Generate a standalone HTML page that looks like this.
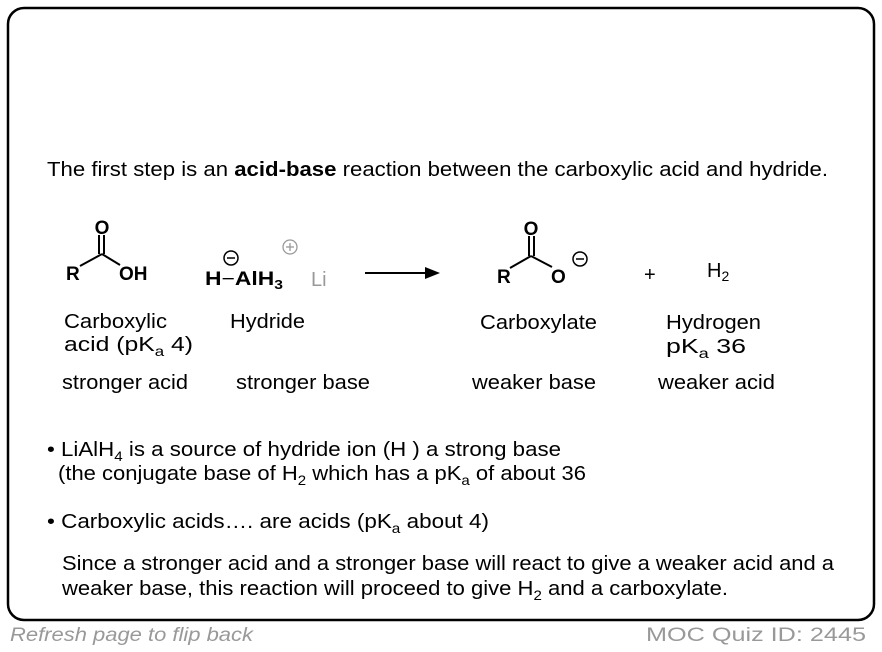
<!DOCTYPE html>
<html><head><meta charset="utf-8"><style>
html,body{margin:0;padding:0;background:#fff;}
svg{display:block;}
text{font-family:"Liberation Sans",Arial,sans-serif;}
</style></head><body>
<svg width="882" height="652" viewBox="0 0 882 652" xmlns="http://www.w3.org/2000/svg">
<rect x="8" y="8" width="866" height="612" rx="16" ry="16" fill="#fff" stroke="#000" stroke-width="2.5"/>
<g font-size="20.5" fill="#000">
<text x="47" y="176" textLength="781" lengthAdjust="spacingAndGlyphs">The first step is an <tspan font-weight="bold">acid-base</tspan> reaction  between the carboxylic acid and hydride.</text>
</g>
<g stroke="#000" stroke-width="2" fill="none">
<line x1="80" y1="266" x2="102" y2="254"/>
<line x1="102" y1="254" x2="120" y2="265"/>
<line x1="99" y1="254" x2="99" y2="235"/>
<line x1="104" y1="254" x2="104" y2="235"/>
<line x1="365" y1="273" x2="428" y2="273"/>
<line x1="510" y1="268" x2="531" y2="256"/>
<line x1="531" y1="256" x2="552" y2="267"/>
<line x1="529" y1="256" x2="529" y2="236"/>
<line x1="534" y1="256" x2="534" y2="236"/>
</g>
<polygon points="440,273 425,267 425,279" fill="#000"/>
<g font-size="19" font-weight="bold" fill="#000">
<text x="102" y="234" text-anchor="middle">O</text>
<text x="66" y="280">R</text>
<text x="119" y="280">OH</text>
<text x="205" y="285" textLength="78" lengthAdjust="spacingAndGlyphs">H<tspan font-weight="normal">−</tspan>AlH<tspan font-size="13" dy="4">3</tspan></text>
<text x="531" y="235" text-anchor="middle">O</text>
<text x="497" y="283">R</text>
<text x="551" y="283">O</text>
</g>
<g fill="none" stroke="#000" stroke-width="1.5">
<circle cx="231" cy="258" r="7"/><line x1="227" y1="258" x2="235" y2="258"/>
<circle cx="580" cy="259" r="7"/><line x1="576" y1="259" x2="584" y2="259"/>
</g>
<g fill="none" stroke="#999" stroke-width="1.3">
<circle cx="290" cy="247" r="7"/><line x1="286" y1="247" x2="294" y2="247"/><line x1="290" y1="243" x2="290" y2="251"/>
</g>
<text x="311" y="286" font-size="20" fill="#999">Li</text>
<text x="644" y="281" font-size="20" fill="#000">+</text>
<text x="707" y="277" font-size="20" fill="#000">H<tspan font-size="14" dy="4">2</tspan></text>
<g font-size="20.5" fill="#000">
<text x="64" y="328" textLength="103" lengthAdjust="spacingAndGlyphs">Carboxylic</text>
<text x="64" y="351" textLength="129" lengthAdjust="spacingAndGlyphs">acid (pK<tspan font-size="14" dy="5">a</tspan><tspan dy="-5"> 4)</tspan></text>
<text x="230" y="328" textLength="75" lengthAdjust="spacingAndGlyphs">Hydride</text>
<text x="480" y="329" textLength="117" lengthAdjust="spacingAndGlyphs">Carboxylate</text>
<text x="666" y="329" textLength="95" lengthAdjust="spacingAndGlyphs">Hydrogen</text>
<text x="666" y="353" textLength="80" lengthAdjust="spacingAndGlyphs">pK<tspan font-size="14" dy="5">a</tspan><tspan dy="-5"> 36</tspan></text>
<text x="62" y="389" textLength="126" lengthAdjust="spacingAndGlyphs">stronger acid</text>
<text x="236" y="389" textLength="134" lengthAdjust="spacingAndGlyphs">stronger base</text>
<text x="472" y="389" textLength="124" lengthAdjust="spacingAndGlyphs">weaker base</text>
<text x="658" y="389" textLength="117" lengthAdjust="spacingAndGlyphs">weaker acid</text>
<text x="47" y="456" textLength="514" lengthAdjust="spacingAndGlyphs">• LiAlH<tspan font-size="14" dy="5">4</tspan><tspan dy="-5"> is a source of hydride ion (H    ) a strong base</tspan></text>
<text x="58" y="480" textLength="528" lengthAdjust="spacingAndGlyphs">(the conjugate base of H<tspan font-size="14" dy="5">2</tspan><tspan dy="-5"> which has a pK</tspan><tspan font-size="14" dy="5">a</tspan><tspan dy="-5"> of about 36</tspan></text>
<text x="47" y="528" textLength="442" lengthAdjust="spacingAndGlyphs">• Carboxylic acids…. are acids (pK<tspan font-size="14" dy="5">a</tspan><tspan dy="-5"> about 4)</tspan></text>
<text x="62" y="570" textLength="772" lengthAdjust="spacingAndGlyphs">Since a stronger acid and a stronger base will react to give a weaker acid and a</text>
<text x="62" y="595" textLength="666" lengthAdjust="spacingAndGlyphs">weaker base, this reaction will proceed to give H<tspan font-size="14" dy="5">2</tspan><tspan dy="-5"> and a carboxylate.</tspan></text>
</g>
<text x="10" y="641" font-size="19" font-style="italic" fill="#999" textLength="243" lengthAdjust="spacingAndGlyphs">Refresh page to flip back</text>
<text x="646" y="641" font-size="19" fill="#999" textLength="220" lengthAdjust="spacingAndGlyphs">MOC Quiz ID: 2445</text>
</svg>
</body></html>
